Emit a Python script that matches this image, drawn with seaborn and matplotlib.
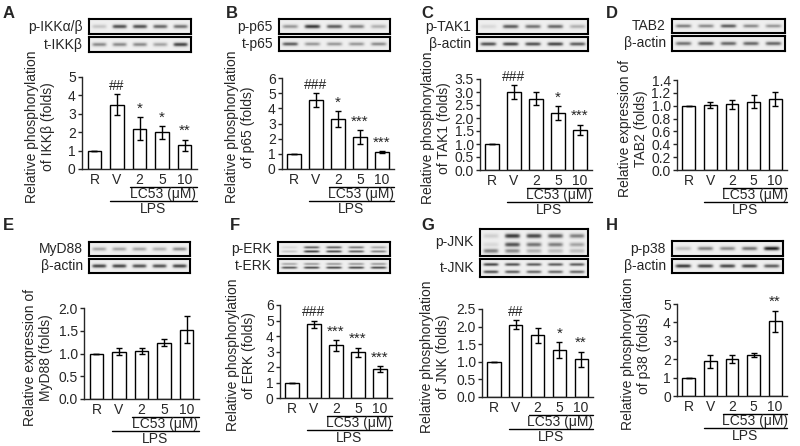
import matplotlib
matplotlib.use('Agg')
import matplotlib.pyplot as plt
import numpy as np
import seaborn as sns
from matplotlib.transforms import offset_copy

groups = ['R', 'V', '2', '5', '10']

# bar heights and error bars (folds)
ikk_mean = [1.0, 3.5, 2.2, 2.0, 1.3]
ikk_err = [0, 0.55, 0.6, 0.35, 0.3]
ikk_sig = ['', '##', '*', '*', '**']

p65_mean = [1.0, 4.55, 3.3, 2.1, 1.12]
p65_err = [0, 0.45, 0.5, 0.45, 0.08]
p65_sig = ['', '###', '*', '***', '***']

tak1_mean = [1.0, 3.0, 2.75, 2.2, 1.55]
tak1_err = [0, 0.27, 0.25, 0.27, 0.2]
tak1_sig = ['', '###', '', '*', '***']

tab2_mean = [1.0, 1.01, 1.02, 1.06, 1.11]
tab2_err = [0, 0.05, 0.07, 0.1, 0.11]
tab2_sig = ['', '', '', '', '']

myd88_mean = [1.0, 1.04, 1.05, 1.24, 1.52]
myd88_err = [0, 0.08, 0.07, 0.07, 0.3]
myd88_sig = ['', '', '', '', '']

erk_mean = [1.0, 4.75, 3.4, 2.95, 1.85]
erk_err = [0, 0.25, 0.35, 0.3, 0.2]
erk_sig = ['', '###', '***', '***', '***']

jnk_mean = [1.0, 2.05, 1.75, 1.33, 1.07]
jnk_err = [0, 0.13, 0.22, 0.22, 0.22]
jnk_sig = ['', '##', '', '*', '**']

p38_mean = [1.0, 1.88, 2.02, 2.22, 4.07]
p38_err = [0, 0.37, 0.2, 0.1, 0.57]
p38_sig = ['', '', '', '', '**']

# western blot band intensities per lane (0 = blank, 1 = black)
ikk_p_bands = [0.25, 0.75, 0.75, 0.65, 0.6]
ikk_t_bands = [0.5, 0.5, 0.5, 0.4, 0.8]
p65_p_bands = [0.45, 0.85, 0.7, 0.55, 0.35]
p65_t_bands = [0.7, 0.45, 0.45, 0.45, 0.5]
tak1_p_bands = [0.15, 0.7, 0.6, 0.65, 0.35]
actin_c_bands = [0.75, 0.8, 0.75, 0.8, 0.7]
tab2_bands = [0.55, 0.5, 0.7, 0.5, 0.45]
actin_d_bands = [0.6, 0.7, 0.65, 0.65, 0.65]
myd88_bands = [0.4, 0.4, 0.4, 0.35, 0.5]
actin_e_bands = [0.8, 0.8, 0.75, 0.75, 0.8]
erk_p_top = [0.15, 0.7, 0.7, 0.6, 0.4]
erk_p_low = [0.25, 0.85, 0.8, 0.7, 0.55]
erk_t_top = [0.4, 0.45, 0.45, 0.45, 0.45]
erk_t_low = [0.75, 0.8, 0.8, 0.8, 0.8]
jnk_p_top = [0.2, 0.85, 0.8, 0.7, 0.55]
jnk_p_mid = [0.15, 0.75, 0.6, 0.55, 0.4]
jnk_p_low = [0.55, 0.5, 0.35, 0.3, 0.3]
jnk_t_top = [0.8, 0.75, 0.7, 0.7, 0.7]
jnk_t_low = [0.75, 0.7, 0.65, 0.65, 0.65]
p38_bands = [0.3, 0.55, 0.5, 0.6, 0.95]
actin_h_bands = [0.85, 0.8, 0.8, 0.8, 0.7]

W, H = 800, 446

sns.set_style('ticks')
plt.rcParams['font.family'] = ['Liberation Sans', 'DejaVu Sans']
plt.rcParams['axes.linewidth'] = 1.0

fig = plt.figure(figsize=(W / 100, H / 100), dpi=100)


def px_axes(x0, y0, x1, y1):
    return fig.add_axes([x0 / W, 1 - y1 / H, (x1 - x0) / W, (y1 - y0) / H])


def px_text(x, y, s, **kw):
    fig.text(x / W, 1 - y / H, s, **kw)


def draw_blot(box, label, rows):
    x0, y0, x1, y1 = box
    ax = px_axes(x0, y0, x1, y1)
    nh, nw = 40, 200
    yy = np.linspace(0, 1, nh)[:, None]
    xx = np.linspace(0, 5, nw)[None, :]
    img = np.full((nh, nw), 0.13)
    sig = 0.14 if len(rows) == 1 else 0.09
    for ypos, vals in rows:
        for i, v in enumerate(vals):
            lane = np.exp(-((xx - (i + 0.5)) / 0.36) ** 6)
            band = np.exp(-((yy - ypos) / sig) ** 2)
            img = np.maximum(img, 0.13 + v * 0.82 * lane * band)
    ax.imshow(img, cmap='Greys', vmin=0, vmax=1, aspect='auto', interpolation='bilinear')
    ax.set_xticks([])
    ax.set_yticks([])
    for sp in ax.spines.values():
        sp.set_visible(True)
        sp.set_linewidth(1.5)
        sp.set_color('black')
    px_text(x0 - 6, (y0 + y1) / 2, label, ha='right', va='center', fontsize=10)


def draw_bars(box, mean, err, sig, ylim, ticks, fmt, ylabel, lab_x):
    x0, y0, x1, y1 = box
    ax = px_axes(x0, y0, x1, y1)
    sns.barplot(x=groups, y=mean, order=groups, color='white', edgecolor='black',
                linewidth=1.0, width=0.6, errorbar=None, ax=ax)
    ax.errorbar(x=range(len(groups)), y=mean, yerr=err, fmt='none', ecolor='black',
                elinewidth=1.0, capsize=2.5, capthick=1.0)
    for i, s in enumerate(sig):
        if s:
            fs = 11 if s.startswith('*') else 10
            ax.annotate(s, (i, mean[i] + err[i]), xytext=(0, 1), textcoords='offset points',
                        ha='center', va='bottom', fontsize=fs)
    ax.set_xlim(-0.55, 4.55)
    ax.set_ylim(*ylim)
    ax.set_yticks(ticks)
    ax.set_yticklabels([fmt.format(t) for t in ticks])
    ax.tick_params(axis='y', length=3, width=1, pad=1.5, labelsize=10)
    ax.tick_params(axis='x', length=0, pad=3, labelsize=10)
    ax.set_xlabel('')
    sns.despine(ax=ax)
    ax.set_ylabel(ylabel, fontsize=10, ha='center', va='center', multialignment='center',
                  linespacing=1.1)
    ax.yaxis.set_label_coords((lab_x - x0) / (x1 - x0), 0.46)

    # treatment brackets below the axis
    def under(dy):
        return offset_copy(ax.get_xaxis_transform(), fig=fig, y=-dy, units='dots')
    ax.plot([1.6, 4.55], [0, 0], color='black', lw=1.0, transform=under(18), clip_on=False)
    ax.text(3.05, 0, 'LC53 (\u03bcM)', ha='center', va='center', fontsize=10,
            transform=under(25))
    ax.plot([0.7, 4.55], [0, 0], color='black', lw=1.0, transform=under(32), clip_on=False)
    ax.text(2.6, 0, 'LPS', ha='center', va='center', fontsize=10, transform=under(40))
    return ax


panels = [
    # letter, letter pos, blots, bar box, data, ylim, ticks, fmt, ylabel, label x
    ('A', (3, 13),
     [((89, 19, 191, 34), 'p-IKK\u03b1/\u03b2', [(0.5, ikk_p_bands)]),
      ((89, 37, 191, 52), 't-IKK\u03b2', [(0.5, ikk_t_bands)])],
     (82, 77, 197, 169), ikk_mean, ikk_err, ikk_sig, (0, 5), [0, 1, 2, 3, 4, 5], '{:.0f}',
     'Relative phosphorylation\nof IKK\u03b2 (folds)', 40),
    ('B', (226, 13),
     [((279, 19, 390, 34), 'p-p65', [(0.5, p65_p_bands)]),
      ((279, 37, 390, 51), 't-p65', [(0.5, p65_t_bands)])],
     (282, 78, 394, 169), p65_mean, p65_err, p65_sig, (0, 6), [0, 1, 2, 3, 4, 5, 6], '{:.0f}',
     'Relative phosphorylation\nof p65 (folds)', 240),
    ('C', (421, 13),
     [((477, 19, 588, 34), 'p-TAK1', [(0.5, tak1_p_bands)]),
      ((477, 37, 588, 51), '\u03b2-actin', [(0.5, actin_c_bands)])],
     (480, 79, 592, 170), tak1_mean, tak1_err, tak1_sig, (0, 3.5),
     [0, 0.5, 1, 1.5, 2, 2.5, 3, 3.5], '{:.1f}',
     'Relative phosphorylation\nof TAK1 (folds)', 436),
    ('D', (606, 13),
     [((672, 19, 785, 33), 'TAB2', [(0.5, tab2_bands)]),
      ((672, 36, 785, 51), '\u03b2-actin', [(0.5, actin_d_bands)])],
     (677, 80, 787, 170), tab2_mean, tab2_err, tab2_sig, (0, 1.4),
     [0, 0.2, 0.4, 0.6, 0.8, 1.0, 1.2, 1.4], '{:.1f}',
     'Relative expression of\nTAB2 (folds)', 633),
    ('E', (3, 225),
     [((89, 242, 190, 256), 'MyD88', [(0.5, myd88_bands)]),
      ((89, 259, 190, 273), '\u03b2-actin', [(0.5, actin_e_bands)])],
     (84, 308, 199, 399), myd88_mean, myd88_err, myd88_sig, (0, 2.0),
     [0, 0.5, 1.0, 1.5, 2.0], '{:.1f}',
     'Relative expression of\nMyD88 (folds)', 38),
    ('F', (230, 225),
     [((278, 242, 390, 256), 'p-ERK', [(0.38, erk_p_top), (0.68, erk_p_low)]),
      ((278, 259, 390, 273), 't-ERK', [(0.35, erk_t_top), (0.62, erk_t_low)])],
     (280, 305, 392, 398), erk_mean, erk_err, erk_sig, (0, 6), [0, 1, 2, 3, 4, 5, 6], '{:.0f}',
     'Relative phosphorylation\nof ERK (folds)', 241),
    ('G', (421, 225),
     [((480, 229, 588, 256), 'p-JNK', [(0.25, jnk_p_top), (0.58, jnk_p_mid), (0.82, jnk_p_low)]),
      ((480, 259, 588, 277), 't-JNK', [(0.3, jnk_t_top), (0.72, jnk_t_low)])],
     (482, 309, 593, 397), jnk_mean, jnk_err, jnk_sig, (0, 2.5),
     [0, 0.5, 1.0, 1.5, 2.0, 2.5], '{:.1f}',
     'Relative phosphorylation\nof JNK (folds)', 435),
    ('H', (606, 225),
     [((672, 241, 783, 256), 'p-p38', [(0.5, p38_bands)]),
      ((672, 259, 783, 273), '\u03b2-actin', [(0.5, actin_h_bands)])],
     (677, 304, 787, 396), p38_mean, p38_err, p38_sig, (0, 5), [0, 1, 2, 3, 4, 5], '{:.0f}',
     'Relative phosphorylation\nof p38 (folds)', 636),
]

for (letter, lpos, blots, box, mean, err, sig, ylim, ticks, fmt, ylabel, lab_x) in panels:
    px_text(lpos[0], lpos[1], letter, ha='left', va='center', fontsize=12, fontweight='bold')
    for bbox, blabel, rows in blots:
        draw_blot(bbox, blabel, rows)
    draw_bars(box, mean, err, sig, ylim, ticks, fmt, ylabel, lab_x)

fig.savefig('out.png', dpi=100, facecolor='white')
